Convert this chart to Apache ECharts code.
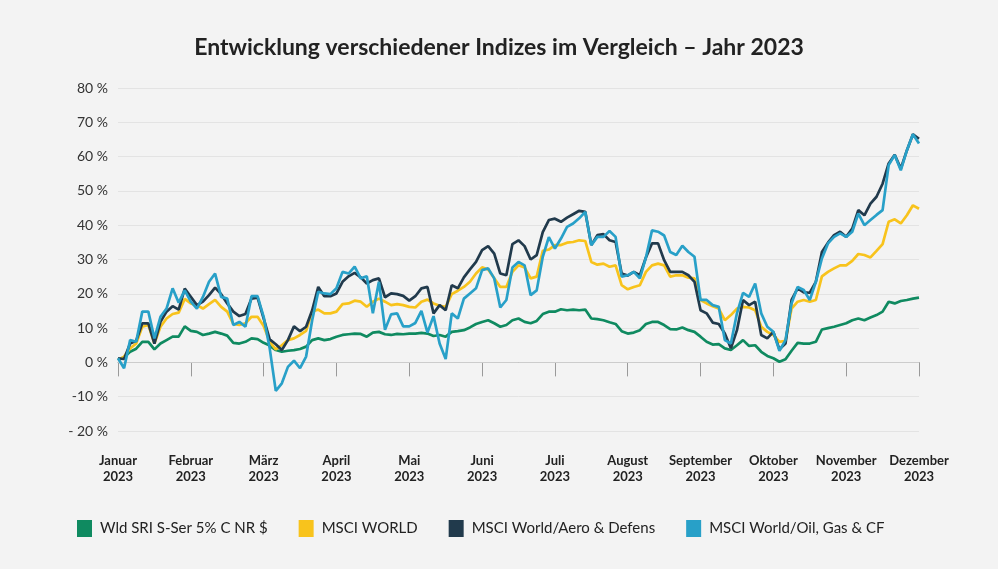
<!DOCTYPE html>
<html>
<head>
<meta charset="utf-8">
<script src="https://cdn.jsdelivr.net/npm/echarts@6/dist/echarts.min.js"></script>
<style>
html,body{margin:0;padding:0;background:#f3f3f3;}
#chart{width:998px;height:569px;}
</style>
</head>
<body>
<div id="chart"></div>
<script>
const titleText = 'Entwicklung verschiedener Indizes im Vergleich \u2013 Jahr 2023';
const monthLabels = ['Januar','Februar','M\u00e4rz','April','Mai','Juni','Juli','August','September','Oktober','November','Dezember'];
const yearLabel = '2023';
const yTickLabels = {'-20':'- 20 %','-10':'-10 %','0':'0 %','10':'10 %','20':'20 %','30':'30 %','40':'40 %','50':'50 %','60':'60 %','70':'70 %','80':'80 %'};
const seriesNames = ['Wld SRI S-Ser 5% C NR $','MSCI WORLD','MSCI World/Aero & Defens','MSCI World/Oil, Gas & CF'];
const pointsPerMonth = 12;

const wldSri = [
 0.7,1.5,3.1,4.0,6.0,6.0,3.8,5.5,6.5,7.5,7.5,10.5,
 9.2,8.9,8.0,8.4,8.9,8.4,7.8,5.7,5.5,6.0,7.0,6.8,
 5.7,4.9,3.6,3.1,3.4,3.6,3.9,4.6,6.5,7.0,6.5,6.8,
 7.5,8.0,8.2,8.4,8.3,7.5,8.7,8.9,8.2,8.0,8.3,8.2,
 8.4,8.4,8.6,8.4,7.7,8.0,7.5,8.9,9.1,9.4,10.2,11.2,
 11.8,12.3,11.4,10.4,10.9,12.3,12.8,11.8,11.4,12.1,14.1,14.8,
 14.8,15.5,15.2,15.4,15.2,15.4,12.8,12.6,12.3,11.7,11.2,9.1,
 8.4,8.7,9.4,11.2,11.8,11.8,10.9,9.7,9.6,10.2,9.4,8.9,
 7.5,6.0,5.2,5.3,4.1,3.6,5.0,6.5,4.8,5.0,3.1,1.9,
 1.2,0.2,0.9,3.4,5.7,5.5,5.5,6.0,9.6,10.0,10.4,10.9,
 11.4,12.3,12.8,12.3,13.1,13.8,14.8,17.7,17.2,17.9,18.2,18.6,
 18.9
];
const msciWorld = [
 0.7,1.7,4.1,5.5,10.4,10.9,5.5,10.4,12.8,14.1,14.5,18.5,
 17.2,16.7,15.7,17.0,18.2,16.2,14.8,11.2,10.9,11.4,13.3,13.3,
 10.6,6.0,3.8,5.0,6.5,7.0,8.0,9.2,14.8,15.4,14.3,14.3,
 14.8,17.0,17.2,18.0,17.7,16.2,17.7,18.6,17.7,16.7,17.0,16.7,
 16.2,16.0,17.7,18.3,17.2,16.5,16.2,19.9,20.9,22.0,23.5,25.9,
 27.7,27.1,24.5,22.0,22.0,26.4,28.3,27.7,24.5,25.0,32.5,32.9,
 34.2,34.2,34.9,35.1,35.6,35.4,29.3,28.5,28.8,27.9,28.3,22.5,
 21.3,22.0,22.5,26.4,28.3,28.8,28.3,25.0,25.4,25.4,24.7,24.5,
 18.2,17.2,16.4,15.7,12.3,13.8,15.7,16.2,16.0,15.2,10.4,8.9,
 8.0,6.0,6.3,15.7,17.7,18.2,17.7,18.2,25.1,26.4,27.4,28.3,
 28.3,29.6,31.6,31.3,30.6,32.5,34.5,41.0,41.7,40.5,42.9,45.8,
 44.8
];
const aeroDefens = [
 1.2,1.0,5.5,6.3,11.4,11.4,5.5,11.8,14.8,16.4,15.4,21.5,
 19.1,16.7,17.7,19.6,21.8,19.9,17.2,14.8,13.5,14.1,18.6,18.9,
 12.8,6.7,5.3,3.6,6.5,10.5,9.1,10.4,15.2,22.0,19.3,19.3,
 20.1,23.5,25.1,26.1,24.8,23.0,24.0,24.5,19.0,20.1,19.9,19.4,
 18.0,19.3,21.6,22.0,14.3,16.7,15.2,22.5,21.6,24.8,27.1,29.3,
 32.7,33.9,31.7,25.9,25.4,34.5,35.6,33.9,30.0,31.3,38.0,41.5,
 41.9,41.0,42.2,43.2,44.2,43.9,34.2,37.1,37.4,35.6,35.1,25.9,
 25.3,26.4,25.4,30.6,34.7,34.7,29.8,26.4,26.4,26.4,25.4,23.5,
 15.2,14.3,11.6,11.2,8.4,4.1,9.4,18.2,16.7,17.7,8.0,7.0,
 8.9,3.8,5.5,18.2,21.6,20.4,20.3,23.5,32.2,34.9,37.1,38.1,
 36.6,39.0,44.4,42.9,46.3,48.3,52.1,58.0,60.5,56.5,61.8,66.5,
 65.2
];
const oilGas = [
 1.2,-1.7,6.5,6.0,14.8,14.8,7.0,13.3,15.7,21.6,17.4,21.0,
 17.7,15.7,19.1,23.5,25.9,19.1,18.6,10.9,11.8,10.4,19.3,19.3,
 13.3,4.1,-8.3,-6.1,-1.3,0.5,-1.7,1.7,12.3,20.6,20.1,19.9,
 21.6,26.4,25.9,27.9,24.5,25.1,14.3,23.5,9.5,14.0,14.3,10.5,
 10.5,11.5,15.0,8.7,13.5,5.5,1.0,14.3,12.8,18.6,20.1,21.6,
 26.9,27.4,24.5,16.0,18.2,27.7,29.3,28.3,19.6,21.0,30.8,36.5,
 33.2,36.1,39.5,40.5,42.0,43.9,34.2,36.6,36.6,38.3,36.6,25.0,
 25.4,26.4,24.5,30.6,38.5,38.1,37.0,32.2,31.3,34.0,32.2,30.8,
 18.2,18.2,16.7,16.2,6.5,5.5,14.3,20.3,19.1,23.0,14.3,10.4,
 8.9,3.4,6.5,17.2,22.0,21.1,18.2,23.5,30.3,34.7,36.6,37.6,
 36.6,38.1,43.4,40.0,41.5,43.0,44.4,57.5,60.5,56.0,61.8,66.5,
 63.8
];

const colors = ['#0f8a60','#f8c31c','#213a4c','#28a0c8'];
const allData = [wldSri, msciWorld, aeroDefens, oilGas];
const categories = wldSri.map((_, i) => String(i));

const chart = echarts.init(document.getElementById('chart'));
const fontFamily = 'Lato, "Noto Sans", sans-serif';
chart.setOption({
  backgroundColor: '#f3f3f3',
  animation: false,
  textStyle: { fontFamily: fontFamily },
  title: {
    text: titleText,
    left: 'center',
    top: 31,
    textStyle: { fontFamily: fontFamily, fontSize: 23, fontWeight: 'bold', color: '#222' }
  },
  grid: { left: 118, right: 79, top: 88, bottom: 138, containLabel: false },
  legend: {
    data: seriesNames,
    left: 72,
    top: 515,
    icon: 'rect',
    itemWidth: 15,
    itemHeight: 17,
    itemGap: 31,
    textStyle: { fontFamily: fontFamily, fontSize: 15, color: '#222', padding: [0, 0, 0, 3] }
  },
  xAxis: {
    type: 'category',
    data: categories,
    boundaryGap: false,
    axisLine: { lineStyle: { color: '#9a9a9a', width: 1 } },
    axisTick: { interval: pointsPerMonth - 1, length: 14, lineStyle: { color: '#9a9a9a' } },
    axisLabel: {
      interval: pointsPerMonth - 1,
      margin: 22,
      fontFamily: fontFamily,
      fontSize: 13,
      fontWeight: 'bold',
      color: '#222',
      lineHeight: 16,
      formatter: (v, idx) => monthLabels[Math.round(idx / pointsPerMonth)] + '\n' + yearLabel
    },
    splitLine: { show: false }
  },
  yAxis: {
    type: 'value',
    min: -20,
    max: 80,
    interval: 10,
    axisLine: { show: false },
    axisTick: { show: false },
    axisLabel: {
      margin: 10,
      fontFamily: fontFamily,
      fontSize: 14,
      color: '#333',
      formatter: v => yTickLabels[String(v)]
    },
    splitLine: { lineStyle: { color: '#e3e3e3', width: 1 } }
  },
  series: seriesNames.map((name, k) => ({
    name: name,
    type: 'line',
    data: allData[k],
    showSymbol: false,
    symbol: 'none',
    smooth: false,
    lineStyle: { color: colors[k], width: 2.7 },
    itemStyle: { color: colors[k] },
    z: 2 + k,
    markLine: k === 0 ? {
      silent: true, symbol: 'none', label: { show: false },
      lineStyle: { color: '#cccccc', width: 1, type: 'solid' },
      data: [{ yAxis: 0 }], z: 1
    } : undefined
  }))
});
</script>
</body>
</html>
